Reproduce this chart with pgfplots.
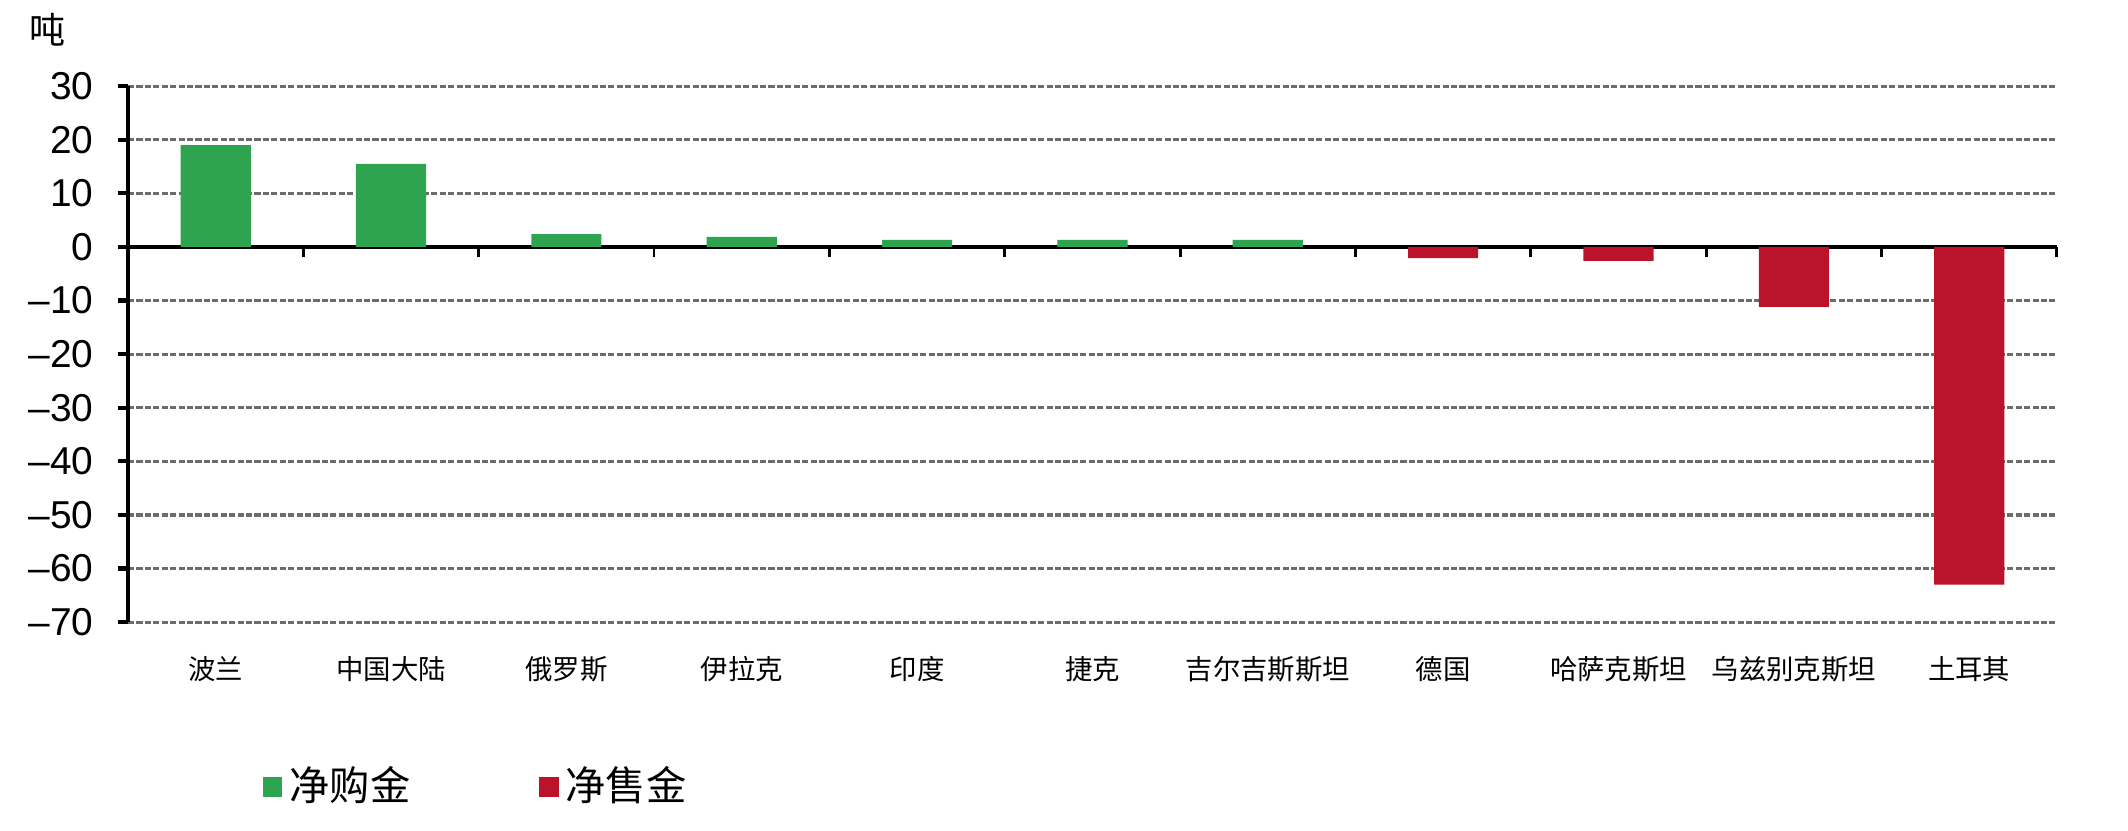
\documentclass[border=0pt]{standalone}
\usepackage{pgfplots}
\pgfplotsset{compat=1.18}
\usepackage{fontspec}
\setmainfont{Liberation Sans}
\newfontfamily\cjk{Noto Sans CJK SC}
\definecolor{buygreen}{RGB}{46,164,80}
\definecolor{sellred}{RGB}{187,19,41}
\definecolor{gridgray}{RGB}{108,108,108}
\begin{document}
\begin{tikzpicture}
\begin{axis}[
  at={(0,0)}, anchor=south west,
  scale only axis,
  width=412pt, height=114.5pt,
  xmin=-0.5, xmax=10.5, ymin=-70, ymax=30,
  enlargelimits=false,
  clip=false,
  axis y line*=left, axis x line*=middle,
  axis line style={black, line width=0.75pt},
  xtick={0.5,1.5,2.5,3.5,4.5,5.5,6.5,7.5,8.5,9.5,10.5},
  xticklabels={},
  xtick align=outside,
  x tick style={black, line width=0.6pt},
  major tick length=2.2pt,
  ytick={-70,-60,-50,-40,-30,-20,-10,0,10,20,30},
  yticklabels={–70,–60,–50,–40,–30,–20,–10,0,10,20,30},
  ytick align=outside,
  y tick style={black, line width=0.9pt},
  yticklabel style={font=\fontsize{8.3}{9}\selectfont, inner sep=0pt, anchor=east, xshift=-5pt},
  ymajorgrids,
  grid style={gridgray, line width=0.65pt, dash pattern=on 1.3pt off 0.5pt},
  ybar, bar width=0.4, bar shift=0pt,
  legend columns=2,
  legend style={draw=none, fill=none, at={(0.0694,-0.308)}, anchor=west,
    inner sep=0pt, font=\cjk\fontsize{8.6}{10}\selectfont,
    /tikz/every even column/.append style={column sep=26pt},
    nodes={inner sep=1.5pt}},
  legend image code/.code={\fill[#1] (0pt,-2.1pt) rectangle (4.2pt,2.1pt);},
]
\addplot[fill=buygreen, draw=none] coordinates {(0,19.0) (1,15.5) (2,2.4) (3,1.9) (4,1.3) (5,1.3) (6,1.3)};
\addlegendentry{净购金}
\addplot[fill=sellred, draw=none] coordinates {(7,-2.1) (8,-2.6) (9,-11.2) (10,-63.0)};
\addlegendentry{净售金}
\node[font=\cjk\fontsize{5.85}{7}\selectfont] at (axis cs:0,-70) [yshift=-10pt] {波兰};
\node[font=\cjk\fontsize{5.85}{7}\selectfont] at (axis cs:1,-70) [yshift=-10pt] {中国大陆};
\node[font=\cjk\fontsize{5.85}{7}\selectfont] at (axis cs:2,-70) [yshift=-10pt] {俄罗斯};
\node[font=\cjk\fontsize{5.85}{7}\selectfont] at (axis cs:3,-70) [yshift=-10pt] {伊拉克};
\node[font=\cjk\fontsize{5.85}{7}\selectfont] at (axis cs:4,-70) [yshift=-10pt] {印度};
\node[font=\cjk\fontsize{5.85}{7}\selectfont] at (axis cs:5,-70) [yshift=-10pt] {捷克};
\node[font=\cjk\fontsize{5.85}{7}\selectfont] at (axis cs:6,-70) [yshift=-10pt] {吉尔吉斯斯坦};
\node[font=\cjk\fontsize{5.85}{7}\selectfont] at (axis cs:7,-70) [yshift=-10pt] {德国};
\node[font=\cjk\fontsize{5.85}{7}\selectfont] at (axis cs:8,-70) [yshift=-10pt] {哈萨克斯坦};
\node[font=\cjk\fontsize{5.85}{7}\selectfont] at (axis cs:9,-70) [yshift=-10pt] {乌兹别克斯坦};
\node[font=\cjk\fontsize{5.85}{7}\selectfont] at (axis cs:10,-70) [yshift=-10pt] {土耳其};
\node[font=\cjk\fontsize{7.7}{9}\selectfont] at (axis description cs:0,1) [xshift=-17.1pt, yshift=12pt] {吨};
\end{axis}
\pgfresetboundingbox
\useasboundingbox (-27.35pt,-44.4pt) rectangle (427.2pt,132.9pt);
\end{tikzpicture}
\end{document}
